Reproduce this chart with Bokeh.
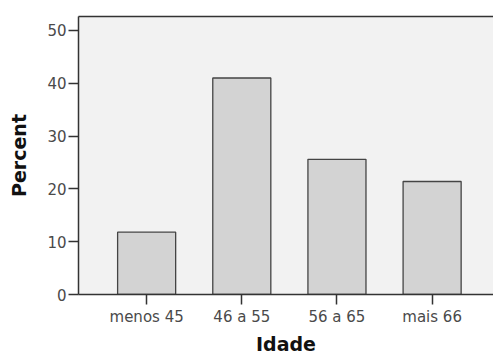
from bokeh.plotting import figure
from bokeh.models import ColumnDataSource, FixedTicker, LinearAxis, Range1d
from bokeh.embed import file_html
from bokeh.resources import INLINE

categories = ["menos 45", "46 a 55", "56 a 65", "mais 66"]
percents = [11.8, 41.0, 25.6, 21.4]
y_ticks = [0, 10, 20, 30, 40, 50]

positions = list(range(len(categories)))
src = ColumnDataSource(dict(x=positions, top=percents, cat=categories))

p = figure(width=493, height=358, output_backend="svg", toolbar_location=None,
           x_range=Range1d(-0.716, 3.645), y_range=Range1d(0, 52.65),
           min_border_left=78, min_border_right=0, min_border_top=16, min_border_bottom=64)
p.background_fill_color = "#f2f2f2"
p.border_fill_color = "white"
p.outline_line_color = None
p.xgrid.visible = False
p.ygrid.visible = False

p.vbar(x="x", top="top", width=0.61, bottom=0, source=src,
       fill_color="#d3d3d3", line_color="#444444", line_width=1.3)

font = "DejaVu Sans"
xa = p.xaxis[0]
xa.ticker = FixedTicker(ticks=positions)
xa.major_label_overrides = {i: c for i, c in zip(positions, categories)}
xa.axis_label = "Idade"
ya = p.yaxis[0]
ya.ticker = FixedTicker(ticks=y_ticks)
ya.axis_label = "Percent"
for ax in (xa, ya):
    ax.axis_line_color = "#333333"
    ax.axis_line_width = 1.5
    ax.major_tick_line_color = "#333333"
    ax.major_tick_line_width = 1.5
    ax.major_tick_out = 10
    ax.major_tick_in = 0
    ax.minor_tick_line_color = None
    ax.major_label_text_font = font
    ax.major_label_text_font_size = "15px"
    ax.major_label_text_color = "#4a4a4a"
    ax.axis_label_text_font = font
    ax.axis_label_text_font_style = "bold"
    ax.axis_label_text_font_size = "19px"
    ax.axis_label_text_color = "#111111"
xa.major_label_standoff = 3
xa.axis_label_standoff = 4
ya.major_label_standoff = 2
ya.axis_label_standoff = 14

top_axis = LinearAxis(ticker=FixedTicker(ticks=[]),
                      axis_line_color="#333333", axis_line_width=1.5,
                      major_tick_line_color=None, minor_tick_line_color=None,
                      major_label_standoff=0)
p.add_layout(top_axis, "above")

open("out.html", "w").write(file_html(p, INLINE))
